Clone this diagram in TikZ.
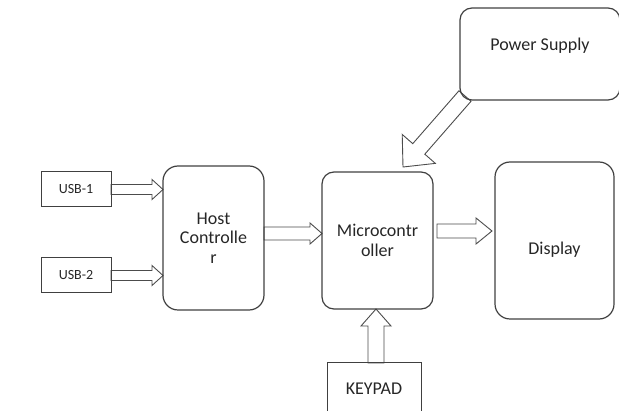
\documentclass[tikz,border=0pt]{standalone}
\usepackage{fontspec}
\setmainfont{Carlito}
\usetikzlibrary{calc,backgrounds}

% hollow block arrow: from, to, body half width, head half width, head length
\newcommand{\hollowarrow}[5]{%
    \coordinate (ha) at ($(#2)!#5!(#1)$);
    \draw[arrowline] ($(#1)!#3!90:(#2)$) -- ($(ha)!#3!90:(#2)$) -- ($(ha)!#4!90:(#2)$) -- (#2)
        -- ($(ha)!#4!-90:(#2)$) -- ($(ha)!#3!-90:(#2)$) -- ($(#1)!#3!-90:(#2)$) -- cycle;
}

\tikzset{
    block/.style={draw=black!75, line width=1.2pt, rounded corners=13pt, align=center,
        inner sep=0pt, outer sep=0pt, text=black!85, font=\fontsize{18}{19.5}\selectfont},
    portbox/.style={draw=black!75, line width=1pt, inner sep=0pt, outer sep=0pt,
        text=black!85, font=\fontsize{14}{16}\selectfont},
    arrowline/.style={draw=black!70, line width=0.9pt, fill=white},
}

\begin{document}
\begin{tikzpicture}[x=1pt, y=-1pt]
    \useasboundingbox (0,0) rectangle (619,411);

    % blocks
    \node[portbox, minimum width=70pt, minimum height=35pt] (usb1) at (76,189.5) {USB-1};
    \node[portbox, minimum width=70pt, minimum height=35pt] (usb2) at (76,275.5) {USB-2};
    \node[block, minimum width=101pt, minimum height=144pt, rounded corners=15pt] (host) at (213.5,238) {Host\\Controlle\\r};
    \node[block, minimum width=111pt, minimum height=137pt, rounded corners=12pt] (micro) at (377.5,240.5) {Microcontr\\oller};
    \node[block, minimum width=119pt, minimum height=157pt, rounded corners=15pt, text height=30pt] (display) at (554.5,240.5) {Display};
    \node[block, minimum width=160pt, minimum height=92pt, rounded corners=12pt, text depth=20pt] (power) at (540,54) {Power Supply};
    \node[portbox, minimum width=94pt, minimum height=52pt, font=\fontsize{18}{19.5}\selectfont] (keypad) at (374,389) {KEYPAD};

    % arrow ends
    \coordinate (u1end) at (host.west |- usb1.east);
    \coordinate (u2end) at (host.west |- usb2.east);
    \coordinate (hstart) at ([yshift=4.5pt]host.east);
    \coordinate (hend) at (micro.west |- hstart);
    \coordinate (mstart) at ([shift={(4pt,9.5pt)}]micro.east);
    \coordinate (mend) at ([xshift=-3pt]display.west |- mstart);
    \coordinate (kstart) at ([xshift=2pt]keypad.north);
    \coordinate (kend) at (kstart |- micro.south);
    \coordinate (pstart) at ([shift={(5pt,4pt)}]power.south west);
    \coordinate (pend) at ([shift={(25.5pt,5pt)}]micro.north);

    % arrows, behind the blocks
    \begin{pgfonlayer}{background}
        \hollowarrow{usb1.east}{u1end}{5pt}{10pt}{11pt}
        \hollowarrow{usb2.east}{u2end}{5pt}{10pt}{11pt}
        \hollowarrow{hstart}{hend}{6.5pt}{10.5pt}{12pt}
        \hollowarrow{mstart}{mend}{7pt}{13pt}{16pt}
        \hollowarrow{kstart}{kend}{8pt}{15pt}{17pt}
        \hollowarrow{pstart}{pend}{8pt}{22pt}{24pt}
    \end{pgfonlayer}
\end{tikzpicture}
\end{document}
